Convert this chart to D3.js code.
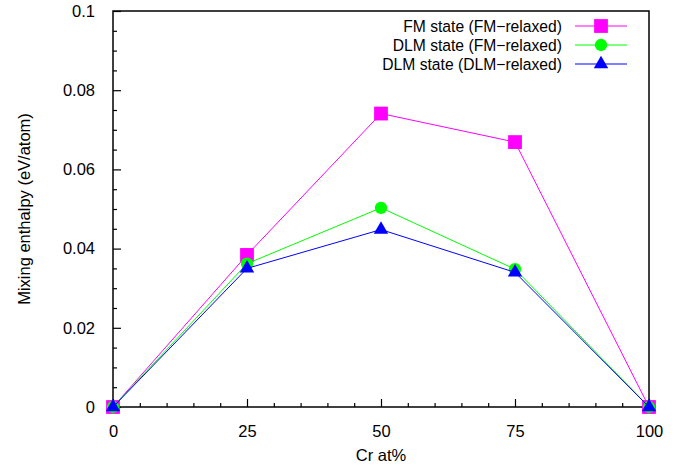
<!DOCTYPE html>
<html>
<head>
<meta charset="utf-8">
<title>Mixing enthalpy</title>
<script src="https://cdn.jsdelivr.net/npm/d3@7"></script>
<style>
  body { margin: 0; background: #fff; }
  text { font-family: "Liberation Sans", Arial, sans-serif; }
</style>
</head>
<body>
<script>
// data
var crPercent = [0, 25, 50, 75, 100];
var fmFm = [0, 0.0384, 0.0741, 0.0669, 0];
var dlmFm = [0, 0.0362, 0.0503, 0.0348, 0];
var dlmDlm = [0, 0.0350, 0.0448, 0.0340, 0];
var seriesNames = ["FM state (FM\u2212relaxed)", "DLM state (FM\u2212relaxed)", "DLM state (DLM\u2212relaxed)"];
var xTicks = [0, 25, 50, 75, 100];
var yTicks = [0, 0.02, 0.04, 0.06, 0.08, 0.1];

var width = 691, height = 468;
var margin = {left: 113, right: 42, top: 11, bottom: 61};

var svg = d3.select("body").append("svg")
    .attr("width", width)
    .attr("height", height);

var x = d3.scaleLinear().domain([0, 100]).range([margin.left, width - margin.right]);
var y = d3.scaleLinear().domain([0, 0.1]).range([height - margin.bottom, margin.top]);

// minor ticks
var xMinor = d3.range(0, 101, 5).filter(function(d) { return d % 25 !== 0; });
var yMinor = d3.range(0, 0.1001, 0.005).filter(function(d) { return Math.abs(d / 0.02 - Math.round(d / 0.02)) > 0.01; });

var gx = svg.append("g").attr("transform", "translate(0," + (height - margin.bottom) + ")");
gx.call(d3.axisBottom(x).tickValues(xMinor).tickSize(-4).tickFormat(""));
gx.append("g").call(d3.axisBottom(x).tickValues(xTicks).tickSize(-8).tickPadding(18).tickFormat(d3.format("d")));

var gy = svg.append("g").attr("transform", "translate(" + margin.left + ",0)");
gy.call(d3.axisLeft(y).tickValues(yMinor).tickSize(-4).tickFormat(""));
gy.append("g").call(d3.axisLeft(y).tickValues(yTicks).tickSize(-8).tickPadding(18).tickFormat(function(d) { return d === 0 ? "0" : d3.format("")(+d.toFixed(2)); }));

svg.selectAll(".domain").remove();
svg.selectAll(".tick line").attr("stroke", "#000").attr("stroke-width", 1.2);
svg.selectAll(".tick text").attr("font-size", 16.5).attr("fill", "#000")
    .attr("font-family", "Liberation Sans, Arial, sans-serif");

// frame
svg.append("rect")
    .attr("x", margin.left).attr("y", margin.top)
    .attr("width", width - margin.left - margin.right)
    .attr("height", height - margin.top - margin.bottom)
    .attr("fill", "none").attr("stroke", "#000").attr("stroke-width", 1.5);

var series = [
  {name: seriesNames[0], values: fmFm, color: "#ff00ff", symbol: d3.symbolSquare, size: 190},
  {name: seriesNames[1], values: dlmFm, color: "#00ff00", symbol: d3.symbolCircle, size: 120},
  {name: seriesNames[2], values: dlmDlm, color: "#0000ff", symbol: d3.symbolTriangle, size: 90}
];

var line = d3.line()
    .x(function(d, i) { return x(crPercent[i]); })
    .y(function(d) { return y(d); });

series.forEach(function(s) {
  svg.append("path")
      .attr("d", line(s.values))
      .attr("fill", "none")
      .attr("stroke", s.color)
      .attr("stroke-width", 1);
  svg.selectAll(null).data(s.values).enter().append("path")
      .attr("transform", function(d, i) { return "translate(" + x(crPercent[i]) + "," + y(d) + ")"; })
      .attr("d", d3.symbol().type(s.symbol).size(s.size))
      .attr("fill", s.color);
});

// legend (text slightly condensed like the original)
var legend = svg.append("g");
series.forEach(function(s, i) {
  var ly = 26 + i * 19;
  legend.append("text")
      .attr("transform", "translate(562," + ly + ") scale(0.95,1)")
      .attr("dy", "0.35em")
      .attr("text-anchor", "end")
      .attr("font-size", 16.5)
      .text(s.name);
  legend.append("line")
      .attr("x1", 575).attr("x2", 627)
      .attr("y1", ly).attr("y2", ly)
      .attr("stroke", s.color).attr("stroke-width", 1);
  legend.append("path")
      .attr("transform", "translate(601," + ly + ")")
      .attr("d", d3.symbol().type(s.symbol).size(s.size))
      .attr("fill", s.color);
});

// axis titles
svg.append("text")
    .attr("x", x(50)).attr("y", 461)
    .attr("text-anchor", "middle")
    .attr("font-size", 16.5)
    .text("Cr at%");

svg.append("text")
    .attr("transform", "translate(30," + y(0.05) + ") rotate(-90)")
    .attr("text-anchor", "middle")
    .attr("font-size", 16.5)
    .text("Mixing enthalpy (eV/atom)");
</script>
</body>
</html>
